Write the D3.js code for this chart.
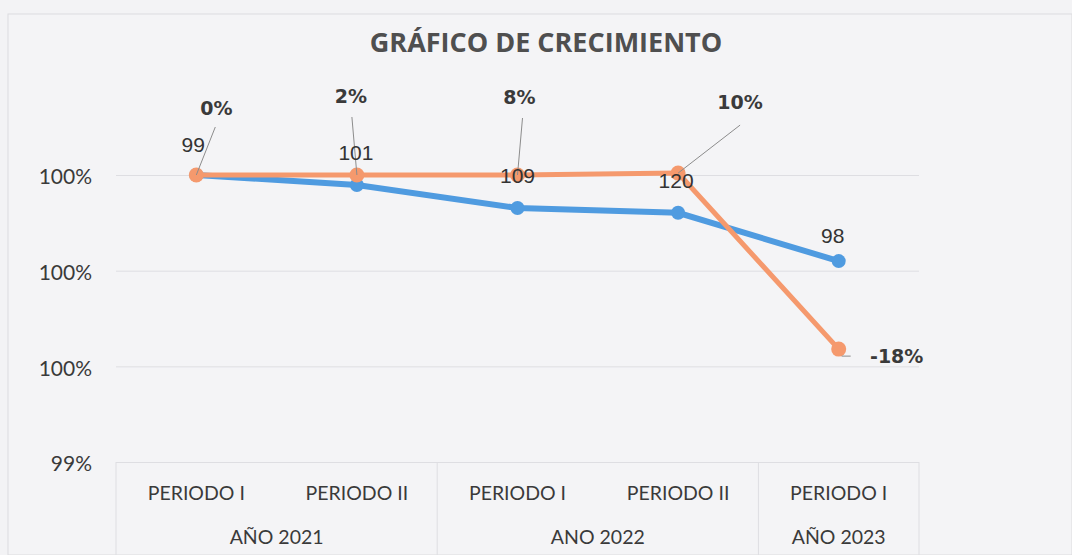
<!DOCTYPE html>
<html>
<head>
<meta charset="utf-8">
<script src="https://cdn.jsdelivr.net/npm/d3@7"></script>
<style>
  body { margin: 0; background: #f3f3f5; }
  svg { display: block; }
</style>
</head>
<body>
<div id="chart"></div>
<script>
// data
const periods = ["PERIODO I", "PERIODO II", "PERIODO I", "PERIODO II", "PERIODO I"];
const years = [
  { name: "AÑO 2021", from: 0, to: 1 },
  { name: "ANO 2022", from: 2, to: 3 },
  { name: "AÑO 2023", from: 4, to: 4 }
];
const yTicks = [0.994, 0.996, 0.998, 1.0];
const blueValues = [1.0, 0.99979, 0.99931, 0.99921, 0.9982];
const blueLabels = ["99", "101", "109", "120", "98"];
const orangeValues = [1.0, 1.0, 1.0, 1.00004, 0.99636];
const orangeLabels = ["0%", "2%", "8%", "10%", "-18%"];

// label offsets (layout only)
const blueOffsets = [[-3, -23], [-1, -25], [0, -25], [-2, -25], [-6, -18]];
const orangeOffsets = [[20, -60], [-6, -72], [2, -71], [62, -64], [58, 14]];
const leaderEnds = [[19, -48], [-5, -58], [5, -57], [62, -48], [12, 7]];

const W = 1072, H = 555;
const margin = { top: 175, right: 153, bottom: 93, left: 116 };
const width = W - margin.left - margin.right;
const height = H - margin.top - margin.bottom;

const svg = d3.select("#chart").append("svg").attr("width", W).attr("height", H);

svg.append("rect").attr("x", 8).attr("y", 14).attr("width", W - 8).attr("height", H - 14)
  .attr("fill", "#f4f4f6").attr("stroke", "#dcdcdf").attr("stroke-width", 1);

svg.append("text")
  .attr("x", 546).attr("y", 52)
  .attr("text-anchor", "middle")
  .attr("font-family", "'Open Sans', sans-serif")
  .attr("font-weight", "bold")
  .attr("font-size", 27)
  .attr("fill", "#4f4f4f")
  .text("GRÁFICO DE CRECIMIENTO");

const g = svg.append("g").attr("transform", `translate(${margin.left},${margin.top})`);

const x = d3.scaleBand().domain(d3.range(periods.length)).range([0, width]);
const cx = i => x(i) + x.bandwidth() / 2;
const y = d3.scaleLinear().domain([0.994, 1.0]).range([height, 0]);

// y axis with gridlines
const yAxis = g.append("g")
  .call(d3.axisLeft(y).tickValues(yTicks).tickFormat(d3.format(".0%")).tickSize(-width).tickPadding(24));
yAxis.select(".domain").remove();
yAxis.selectAll(".tick line").attr("stroke", "#dedee2").attr("stroke-width", 1);
yAxis.selectAll(".tick text")
  .attr("dy", "0.42em")
  .attr("font-family", "Lato, sans-serif").attr("font-size", 21).attr("fill", "#3a3a3a");

// category axis (two levels)
const catG = g.append("g").attr("transform", `translate(0,${height})`);
catG.selectAll(".period").data(periods).enter().append("text")
  .attr("x", (d, i) => cx(i)).attr("y", 38)
  .attr("text-anchor", "middle")
  .attr("font-family", "Lato, sans-serif").attr("font-size", 19.5).attr("fill", "#3a3a3a")
  .text(d => d);
catG.selectAll(".year").data(years).enter().append("text")
  .attr("x", d => (x(d.from) + x(d.to) + x.bandwidth()) / 2).attr("y", 82)
  .attr("text-anchor", "middle")
  .attr("font-family", "Lato, sans-serif").attr("font-size", 19.5).attr("fill", "#3a3a3a")
  .text(d => d.name);
const seps = [0].concat(years.map(d => x(d.to) + x.bandwidth()));
catG.selectAll(".sep").data(seps).enter().append("line")
  .attr("x1", d => d).attr("x2", d => d).attr("y1", 0).attr("y2", H - margin.top - height)
  .attr("stroke", "#dedee2");

const line = d3.line().x((d, i) => cx(i)).y(d => y(d));

// blue series
g.append("path").datum(blueValues).attr("fill", "none")
  .attr("stroke", "#4f9be0").attr("stroke-width", 6).attr("d", line);
g.selectAll(".bdot").data(blueValues).enter().append("circle")
  .attr("cx", (d, i) => cx(i)).attr("cy", d => y(d)).attr("r", 7).attr("fill", "#4f9be0");

// orange series
g.append("path").datum(orangeValues).attr("fill", "none")
  .attr("stroke", "#f5996d").attr("stroke-width", 5).attr("d", line);
g.selectAll(".odot").data(orangeValues).enter().append("circle")
  .attr("cx", (d, i) => cx(i)).attr("cy", d => y(d)).attr("r", 7.5).attr("fill", "#f5996d");

// leader lines for orange labels
g.selectAll(".leader").data(orangeValues).enter().append("line")
  .attr("x1", (d, i) => cx(i) + (i === 4 ? 3 : 0)).attr("y1", (d, i) => y(d) + (i === 4 ? 7 : 0))
  .attr("x2", (d, i) => cx(i) + leaderEnds[i][0]).attr("y2", (d, i) => y(d) + leaderEnds[i][1])
  .attr("stroke", "#8c8c8c").attr("stroke-width", 1);

// blue labels
g.selectAll(".blabel").data(blueValues).enter().append("text")
  .attr("x", (d, i) => cx(i) + blueOffsets[i][0]).attr("y", (d, i) => y(d) + blueOffsets[i][1])
  .attr("text-anchor", "middle")
  .attr("font-family", "'Liberation Sans', sans-serif").attr("font-size", 21).attr("fill", "#333")
  .text((d, i) => blueLabels[i]);

// orange labels
g.selectAll(".olabel").data(orangeValues).enter().append("text")
  .attr("x", (d, i) => cx(i) + orangeOffsets[i][0]).attr("y", (d, i) => y(d) + orangeOffsets[i][1])
  .attr("text-anchor", "middle")
  .attr("font-family", "'DejaVu Sans', sans-serif").attr("font-weight", "bold")
  .attr("font-size", 19).attr("fill", "#3a3a3a")
  .text((d, i) => orangeLabels[i]);
</script>
</body>
</html>
